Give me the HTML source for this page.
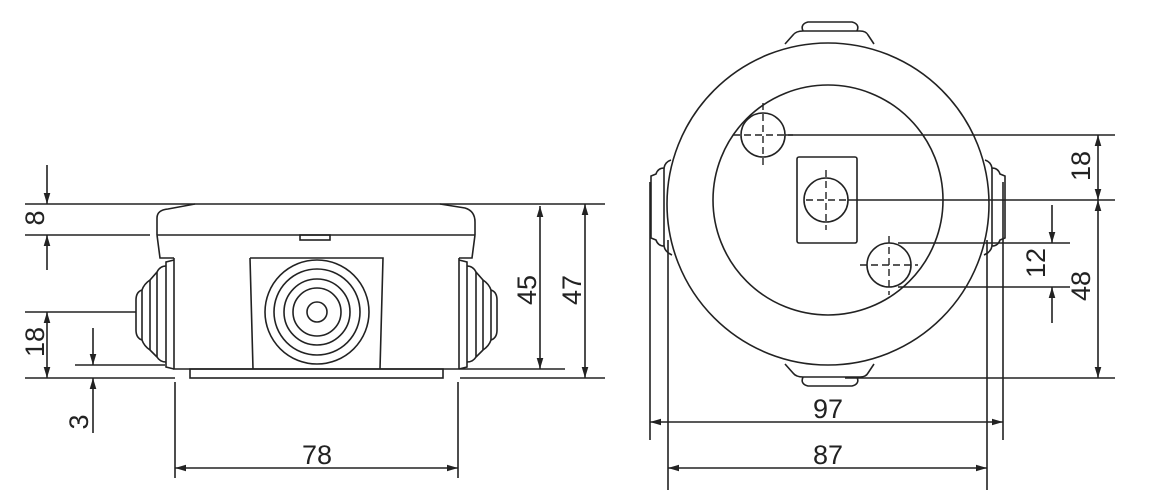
<!DOCTYPE html>
<html><head><meta charset="utf-8"><style>
html,body{margin:0;padding:0;background:#fff;width:1159px;height:500px;overflow:hidden}
svg{display:block}
text{font-family:"Liberation Sans",Arial,sans-serif;font-size:27px;fill:#222}
</style></head><body>
<svg width="1159" height="500" viewBox="0 0 1159 500" xmlns="http://www.w3.org/2000/svg">
<defs>
<marker id="a" viewBox="0 0 10 10" refX="10" refY="5" markerWidth="11" markerHeight="11" markerUnits="userSpaceOnUse" orient="auto-start-reverse"><path d="M0,2 L10,5 L0,8 Z" fill="#222"/></marker>
</defs>
<g stroke="#222" stroke-width="1.6" fill="none">
<!-- LEFT VIEW -->
<line x1="25" y1="204" x2="605" y2="204"/>
<path d="M157,235 L157,218 Q157,210 168,209 L195,204 M440,204 L465,208 Q475,211 475,222 L475,235"/>
<line x1="157" y1="235" x2="475" y2="235"/>
<path d="M157,235 L160,258 L174,258 M475,235 L472,258 L459,258"/>
<rect x="300" y="235" width="30" height="5"/>
<path d="M174,258 L174,369 L459,369 L459,258"/>
<rect x="190" y="369" width="253" height="9"/>
<path d="M250,258 L383,258 L380,369 M250,258 L253,369"/>
<circle cx="317" cy="312" r="52"/><circle cx="317" cy="312" r="43"/><circle cx="317" cy="312" r="33"/><circle cx="317" cy="312" r="24"/><circle cx="317" cy="312" r="10"/>
<path d="M174,260 L166,262 L166,367 L174,369"/>
<path d="M166,266 Q160,266 157,272 L150,280 Q144,284 142,290 Q136,292 136,300 L136,330 Q136,338 142,340 Q144,346 150,350 L157,357 Q160,362 166,362"/>
<path d="M157,272 L157,357 M150,280 L150,350 M142,290 L142,340"/>
<path d="M459,260 L467,262 L467,367 L459,369"/>
<path d="M467,266 Q473,266 476,272 L483,280 Q489,284 491,290 Q497,292 497,300 L497,330 Q497,338 491,340 Q489,346 483,350 L476,357 Q473,362 467,362"/>
<path d="M476,272 L476,357 M483,280 L483,350 M491,290 L491,340"/>
<line x1="25" y1="235" x2="150" y2="235"/>
<line x1="47" y1="165" x2="47" y2="204" marker-end="url(#a)"/>
<line x1="47" y1="270" x2="47" y2="235" marker-end="url(#a)"/>
<line x1="25" y1="312" x2="136" y2="312"/>
<line x1="47" y1="312" x2="47" y2="378" marker-start="url(#a)" marker-end="url(#a)"/>
<line x1="25" y1="378" x2="175" y2="378"/>
<line x1="460" y1="378" x2="605" y2="378"/>
<line x1="75" y1="365" x2="165" y2="365"/>
<line x1="93" y1="328" x2="93" y2="365" marker-end="url(#a)"/>
<line x1="93" y1="433" x2="93" y2="378" marker-end="url(#a)"/>
<line x1="460" y1="369" x2="565" y2="369"/>
<line x1="540" y1="206" x2="540" y2="369" marker-start="url(#a)" marker-end="url(#a)"/>
<line x1="585" y1="204" x2="585" y2="378" marker-start="url(#a)" marker-end="url(#a)"/>
<line x1="175" y1="382" x2="175" y2="478"/>
<line x1="458" y1="382" x2="458" y2="478"/>
<line x1="175" y1="468" x2="458" y2="468" marker-start="url(#a)" marker-end="url(#a)"/>
<!-- RIGHT VIEW -->
<circle cx="828" cy="204" r="161"/>
<circle cx="828" cy="200" r="115"/>
<path d="M785,44 L793,35 Q796,31 803,31 L860,31 Q866,31 868,35 L874,44"/>
<path d="M803,31 Q800,24 808,22 L852,22 Q860,24 857,31"/>
<path d="M785,364 L793,373 Q796,377 803,377 L860,377 Q866,377 868,373 L874,364"/>
<path d="M803,377 Q800,384 808,386 L852,386 Q860,384 857,377"/>
<path d="M671,160 Q665,162 664,168 Q658,168 656,174 L651,176 L651,238 L656,240 Q658,246 664,246 Q665,252 672,255"/>
<path d="M664,168 L664,246"/>
<path d="M985,160 Q991,162 992,168 Q998,168 1000,174 L1005,176 L1005,238 L1000,240 Q998,246 992,246 Q991,252 984,255"/>
<path d="M992,168 L992,246"/>
<rect x="797" y="157" width="60" height="86" rx="2"/>
<circle cx="763" cy="135" r="22"/>
<circle cx="826" cy="200" r="22"/>
<circle cx="889" cy="265" r="22"/>
<line x1="785" y1="135" x2="1115" y2="135"/>
<line x1="848" y1="200" x2="1115" y2="200"/>
<line x1="898" y1="243" x2="1070" y2="243"/>
<line x1="898" y1="287" x2="1070" y2="287"/>
<line x1="845" y1="378" x2="1115" y2="378"/>
<line x1="1098" y1="135" x2="1098" y2="200" marker-start="url(#a)" marker-end="url(#a)"/>
<line x1="1098" y1="200" x2="1098" y2="378" marker-start="url(#a)" marker-end="url(#a)"/>
<line x1="1052" y1="205" x2="1052" y2="243" marker-end="url(#a)"/>
<line x1="1052" y1="323" x2="1052" y2="287" marker-end="url(#a)"/>
<line x1="650" y1="182" x2="650" y2="440"/>
<line x1="1003" y1="182" x2="1003" y2="440"/>
<line x1="668" y1="240" x2="668" y2="490"/>
<line x1="987" y1="240" x2="987" y2="490"/>
<line x1="650" y1="422" x2="1003" y2="422" marker-start="url(#a)" marker-end="url(#a)"/>
<line x1="668" y1="468" x2="987" y2="468" marker-start="url(#a)" marker-end="url(#a)"/>
</g>
<g stroke="#222" stroke-width="1.4" stroke-dasharray="7,4" fill="none">
<line x1="733" y1="135" x2="793" y2="135"/><line x1="763" y1="103" x2="763" y2="165"/>
<line x1="806" y1="200" x2="846" y2="200"/><line x1="826" y1="170" x2="826" y2="230"/>
<line x1="860" y1="265" x2="918" y2="265"/><line x1="889" y1="236" x2="889" y2="295"/>
</g>
<text transform="translate(44,218) rotate(-90)" text-anchor="middle">8</text>
<text transform="translate(44,342) rotate(-90)" text-anchor="middle">18</text>
<text transform="translate(88,422) rotate(-90)" text-anchor="middle">3</text>
<text transform="translate(536,290) rotate(-90)" text-anchor="middle">45</text>
<text transform="translate(581,290) rotate(-90)" text-anchor="middle">47</text>
<text x="317" y="464" text-anchor="middle">78</text>
<text transform="translate(1090,166) rotate(-90)" text-anchor="middle">18</text>
<text transform="translate(1090,286) rotate(-90)" text-anchor="middle">48</text>
<text transform="translate(1045,263) rotate(-90)" text-anchor="middle">12</text>
<text x="828" y="418" text-anchor="middle">97</text>
<text x="828" y="464" text-anchor="middle">87</text>
</svg>
</body></html>
